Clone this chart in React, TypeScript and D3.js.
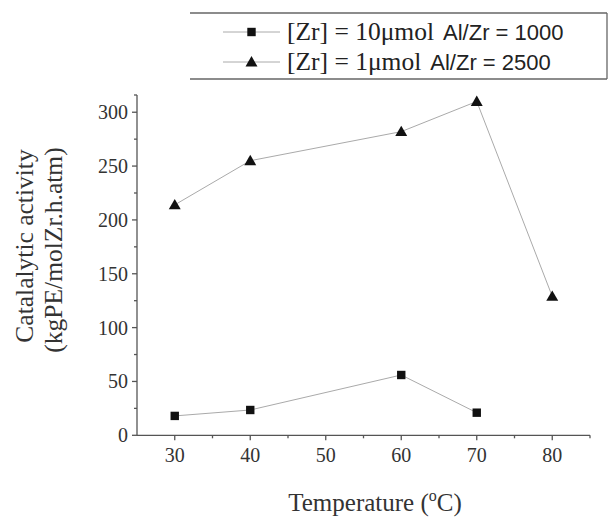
import React from "react";
import * as d3 from "d3";

const temps1 = [30, 40, 60, 70];
const activity1 = [18, 23.5, 56, 21];
const temps2 = [30, 40, 60, 70, 80];
const activity2 = [214, 255, 282, 310, 129];
const xTicks = [30, 40, 50, 60, 70, 80];
const xMinor = [35, 45, 55, 65, 75, 85];
const yTicks = [0, 50, 100, 150, 200, 250, 300];
const yMinor = [25, 75, 125, 175, 225, 275];
const legendLabels = [
  { serif: "[Zr] = 10\u03bcmol", sans: "Al/Zr = 1000" },
  { serif: "[Zr] = 1\u03bcmol", sans: "Al/Zr = 2500" },
];

const W = 610;
const H = 517;
const left = 137;
const right = 590;
const top = 95;
const bottom = 435.3;

export default function App() {
  const x = d3.scaleLinear().domain([25, 85]).range([left, right]);
  const y = d3.scaleLinear().domain([0, 316]).range([bottom, top]);
  const line = d3
    .line<[number, number]>()
    .x((d) => x(d[0]))
    .y((d) => y(d[1]));
  const s1 = temps1.map((t, i) => [t, activity1[i]] as [number, number]);
  const s2 = temps2.map((t, i) => [t, activity2[i]] as [number, number]);
  const axisColor = "#555";
  const serif = "'Liberation Serif', 'Times New Roman', serif";
  const sans = "'Liberation Sans', Arial, sans-serif";
  const tri = d3.symbol(d3.symbolTriangle, 62)();
  const sq = (cx: number, cy: number, k: string) => (
    <rect key={k} x={cx - 4.2} y={cy - 4.2} width={8.4} height={8.4} fill="#111" />
  );
  return (
    <svg
      width={W}
      height={H}
      style={{ position: "absolute", left: 0, top: 0, background: "#fff" }}
    >
      {/* legend box */}
      <g stroke="#666" strokeWidth={1.3} fill="none">
        <line x1={190} x2={607} y1={13} y2={13} />
        <line x1={190} x2={607} y1={79} y2={79} />
        <line x1={607} x2={607} y1={13} y2={79} />
      </g>
      {legendLabels.map((l, i) => {
        const ly = 32 + i * 30;
        return (
          <g key={i}>
            <line x1={223} x2={280} y1={ly} y2={ly} stroke="#aaa" strokeWidth={1} />
            {i === 0 ? (
              sq(251.5, ly, "lg")
            ) : (
              <path d={tri} transform={`translate(251.5,${ly + 1})`} fill="#111" />
            )}
            <text x={287} y={ly + 8} fill="#222">
              <tspan fontFamily={serif} fontSize={25.5}>{l.serif}</tspan>
              <tspan fontFamily={sans} fontSize={22} dx={9}>{l.sans}</tspan>
            </text>
          </g>
        );
      })}

      {/* axes */}
      <g stroke={axisColor} strokeWidth={1.3}>
        <line x1={left} x2={left} y1={top} y2={bottom} />
        <line x1={left} x2={right} y1={bottom} y2={bottom} />
        <line x1={left} x2={left - 3} y1={top} y2={top} />
        {yTicks.map((v) => (
          <line key={"yt" + v} x1={left} x2={left - 5} y1={y(v)} y2={y(v)} />
        ))}
        {yMinor.map((v) => (
          <line key={"ym" + v} x1={left} x2={left - 3} y1={y(v)} y2={y(v)} />
        ))}
        {xTicks.map((v) => (
          <line key={"xt" + v} x1={x(v)} x2={x(v)} y1={bottom} y2={bottom + 5} />
        ))}
        {xMinor.map((v) => (
          <line key={"xm" + v} x1={x(v)} x2={x(v)} y1={bottom} y2={bottom + 3} />
        ))}
      </g>
      {yTicks.map((v) => (
        <text
          key={"yl" + v}
          x={left - 9}
          y={y(v) + 7}
          textAnchor="end"
          fontFamily={serif}
          fontSize={20}
          fill="#333"
        >
          {v}
        </text>
      ))}
      {xTicks.map((v) => (
        <text
          key={"xl" + v}
          x={x(v)}
          y={462}
          textAnchor="middle"
          fontFamily={serif}
          fontSize={20}
          fill="#333"
        >
          {v}
        </text>
      ))}

      {/* axis titles */}
      <text
        transform="translate(33,246) rotate(-90)"
        textAnchor="middle"
        fontFamily={serif}
        fontSize={25.5}
        fill="#333"
      >
        Catalalytic activity
      </text>
      <text
        transform="translate(62,250) rotate(-90)"
        textAnchor="middle"
        fontFamily={serif}
        fontSize={25.5}
        fill="#333"
      >
        (kgPE/molZr.h.atm)
      </text>
      <text x={375} y={511} textAnchor="middle" fontFamily={serif} fontSize={25} fill="#333">
        Temperature (<tspan dy={-10} fontSize={16}>o</tspan>
        <tspan dy={10}>C)</tspan>
      </text>

      {/* series */}
      <path d={line(s1) || ""} fill="none" stroke="#aaa" strokeWidth={1} />
      <path d={line(s2) || ""} fill="none" stroke="#aaa" strokeWidth={1} />
      {s1.map((d, i) => sq(x(d[0]), y(d[1]), "s" + i))}
      {s2.map((d, i) => (
        <path
          key={"t" + i}
          d={tri}
          transform={`translate(${x(d[0])},${y(d[1]) + 1})`}
          fill="#111"
        />
      ))}
    </svg>
  );
}
